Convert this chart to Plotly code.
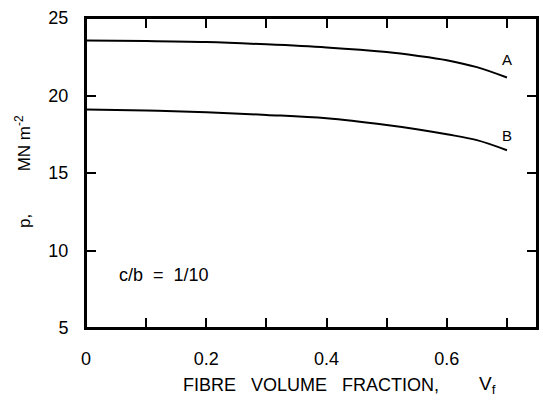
import plotly.graph_objects as go

# Data
vf = [0.0, 0.1, 0.2, 0.3, 0.4, 0.5, 0.55, 0.6, 0.65, 0.7]
curve_a = [23.55, 23.52, 23.45, 23.3, 23.1, 22.8, 22.57, 22.28, 21.83, 21.16]
curve_b = [19.1, 19.03, 18.92, 18.75, 18.53, 18.1, 17.83, 17.5, 17.12, 16.47]
x_tick_vals = [0, 0.1, 0.2, 0.3, 0.4, 0.5, 0.6, 0.7]
x_tick_text = ["0", "", "0.2", "", "0.4", "", "0.6", ""]
y_tick_vals = [5, 10, 15, 20, 25]
y_tick_text = ["5", "10", "15", "20", "25"]

FONT = "Liberation Sans"
X_RANGE = [0, 0.75]
Y_RANGE = [5, 25]

fig = go.Figure()
label_shift = {"A": 18, "B": 15}
for ys, name in [(curve_a, "A"), (curve_b, "B")]:
    fig.add_trace(go.Scatter(x=vf, y=ys, mode="lines", name=name,
                             line=dict(color="black", width=2, shape="spline"),
                             showlegend=False, hoverinfo="skip"))
    fig.add_annotation(x=vf[-1], y=ys[-1], text=name, showarrow=False,
                       xanchor="center", yanchor="middle", yshift=label_shift[name],
                       font=dict(family=FONT, size=15, color="black"))

common = dict(showgrid=False, zeroline=False, showline=True, linecolor="black",
              linewidth=2, ticks="inside", ticklen=10, tickwidth=1.5,
              tickcolor="black", mirror="allticks")
fig.update_layout(
    width=543, height=401,
    margin=dict(l=86, r=4, t=18, b=73),
    paper_bgcolor="white", plot_bgcolor="white",
    font=dict(family=FONT, color="black"),
    xaxis=dict(range=X_RANGE, tickvals=x_tick_vals, ticktext=x_tick_text,
               tickfont=dict(family=FONT, size=18, color="black"),
               ticklabelstandoff=13, **common),
    yaxis=dict(range=Y_RANGE, tickvals=y_tick_vals, ticktext=y_tick_text,
               tickfont=dict(family=FONT, size=18, color="black"),
               ticklabelstandoff=12, **common),
)

# plot frame
fig.add_shape(type="rect", xref="paper", yref="paper", x0=0, y0=0, x1=1, y1=1,
              line=dict(color="black", width=2), layer="above")

fig.add_annotation(xref="paper", yref="paper", x=-0.14, y=0.506,
                   text="p," + "&nbsp;" * 9 + "MN m<sup>-2</sup>", textangle=-90,
                   showarrow=False, xanchor="center", yanchor="middle",
                   font=dict(family=FONT, size=17, color="black"))
fig.add_annotation(xref="paper", yref="paper", x=0.068, y=0.171,
                   text="c/b &nbsp;=&nbsp; 1/10", showarrow=False,
                   xanchor="left", yanchor="middle",
                   font=dict(family=FONT, size=18, color="black"))
fig.add_annotation(xref="paper", yref="paper", x=0.2105, y=-0.184,
                   text="FIBRE&nbsp;&nbsp; VOLUME&nbsp;&nbsp; FRACTION,", showarrow=False,
                   xanchor="left", yanchor="middle",
                   font=dict(family=FONT, size=18, color="black"))
fig.add_annotation(xref="paper", yref="paper", x=0.868, y=-0.184,
                   text="V<sub>f</sub>", showarrow=False,
                   xanchor="left", yanchor="middle",
                   font=dict(family=FONT, size=19, color="black"))

fig.write_html(
    "out.html",
    config={"displayModeBar": False},
    post_script="document.body.style.margin='0';document.body.style.overflow='hidden';",
)
